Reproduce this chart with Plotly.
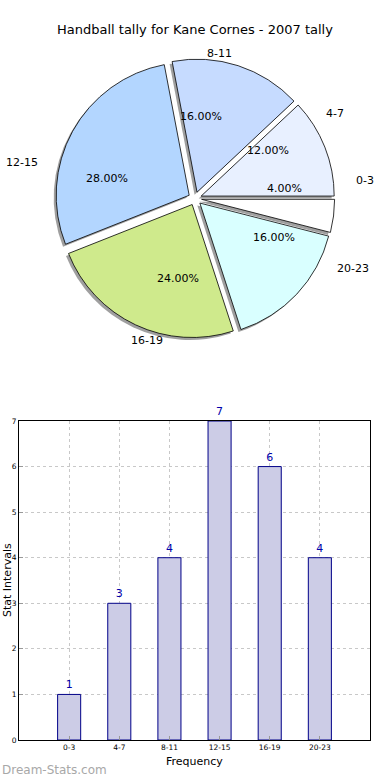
import math
import plotly.graph_objects as go

# ---- data ----
categories = ["0-3", "4-7", "8-11", "12-15", "16-19", "20-23"]
counts = [1, 3, 4, 7, 6, 4]
pie_colors = ["#ffffff", "#e8f0ff", "#c6dbff", "#b3d6ff", "#cfea8c", "#d9ffff"]
title_text = "Handball tally for Kane Cornes - 2007 tally"
x_title = "Frequency"
y_title = "Stat Intervals"
y_ticks = [0, 1, 2, 3, 4, 5, 6, 7]

W, H = 390, 780
FONT = "DejaVu Sans"

def px(x):
    return x / W

def py(y):
    return 1 - y / H

# pie geometry (pixels)
cx, cy = 195, 198.5
r_pie = 133
pull = 0.05
R = r_pie * (1 + pull)
rx_lab, ry_lab = 139, 126  # label ellipse radii

fig = go.Figure()

# shadow pie (offset left/down)
sdx, sdy = -2.5, 2.5
fig.add_trace(go.Pie(
    labels=categories, values=counts, sort=False, direction="counterclockwise",
    rotation=90, pull=[pull] * len(counts),
    marker=dict(colors=["rgba(80,80,80,0.55)"] * len(counts), line=dict(width=0)),
    textinfo="none", hoverinfo="skip", showlegend=False,
    domain=dict(x=[px(cx + sdx - R), px(cx + sdx + R)], y=[py(cy + sdy + R), py(cy + sdy - R)]),
))
fig.add_trace(go.Pie(
    labels=categories, values=counts, sort=False, direction="counterclockwise",
    rotation=90, pull=[pull] * len(counts),
    marker=dict(colors=pie_colors, line=dict(color="black", width=0.8)),
    textinfo="none", showlegend=False,
    domain=dict(x=[px(cx - R), px(cx + R)], y=[py(cy + R), py(cy - R)]),
))

annotations = []
total = sum(counts)
cum = 0
for cat, v in zip(categories, counts):
    frac = v / total
    mid = 2 * math.pi * (cum + frac / 2)
    cum += frac
    c, s = math.cos(mid), math.sin(mid)
    # outer label
    lx = cx + (1.1 + pull) * rx_lab * c
    ly = cy - (1.1 + pull) * ry_lab * s
    annotations.append(dict(
        x=px(lx), y=py(ly), xref="paper", yref="paper", text=cat, showarrow=False,
        xanchor="left" if c >= 0 else "right", yanchor="middle",
        font=dict(family=FONT, size=11, color="black"),
    ))
    # percentage label
    tx = cx + (0.6 + pull) * rx_lab * c
    ty = cy - (0.6 + pull) * ry_lab * s
    annotations.append(dict(
        x=px(tx), y=py(ty), xref="paper", yref="paper", text=f"{frac*100:.2f}%",
        showarrow=False, xanchor="center", yanchor="middle",
        font=dict(family=FONT, size=11, color="black"),
    ))

# bar chart
fig.add_trace(go.Bar(
    x=list(range(len(categories))), y=counts, width=0.46,
    marker=dict(color="#cccce6", line=dict(color="#000088", width=1)),
    text=[str(v) for v in counts], textposition="outside", cliponaxis=False,
    textfont=dict(family=FONT, size=11, color="#0000aa"),
    showlegend=False, xaxis="x", yaxis="y",
))

# title
annotations.append(dict(
    x=0.5, y=py(30), xref="paper", yref="paper", text=title_text, showarrow=False,
    xanchor="center", yanchor="middle", font=dict(family=FONT, size=13, color="black"),
))
# y title
annotations.append(dict(
    x=px(7), y=py(580), xref="paper", yref="paper", text=y_title, showarrow=False,
    textangle=-90, xanchor="center", yanchor="middle",
    font=dict(family=FONT, size=11, color="black"),
))
# x title
annotations.append(dict(
    x=px(194.5), y=py(761), xref="paper", yref="paper", text=x_title, showarrow=False,
    xanchor="center", yanchor="middle", font=dict(family=FONT, size=11, color="black"),
))
# watermark
annotations.append(dict(
    x=0, y=py(770), xref="paper", yref="paper", text="Dream-Stats.com", showarrow=False,
    xanchor="left", yanchor="middle", font=dict(family=FONT, size=12, color="#a8a8a8"),
))

grid_style = dict(showgrid=True, gridcolor="#c8c8c8", griddash="dot", gridwidth=1)

fig.update_layout(
    width=W, height=H, margin=dict(l=0, r=0, t=0, b=0),
    template="none", paper_bgcolor="white", plot_bgcolor="white",
    bargap=0.5, annotations=annotations,
    font=dict(family=FONT),
    xaxis=dict(
        domain=[px(19), px(370)], anchor="y", range=[-1, 6],
        tickmode="array", tickvals=list(range(len(categories))), ticktext=categories,
        tickfont=dict(family=FONT, size=7.5, color="black"),
        showline=True, linecolor="black", linewidth=1, mirror=True,
        ticks="inside", ticklen=4, tickcolor="#999999",
        zeroline=False, automargin=False, fixedrange=True, **grid_style,
    ),
    yaxis=dict(
        domain=[py(740), py(421)], anchor="x", range=[0, 7],
        tickmode="array", tickvals=y_ticks,
        tickfont=dict(family=FONT, size=7.5, color="black"),
        showline=True, linecolor="black", linewidth=1, mirror=True,
        ticks="inside", ticklen=4, tickcolor="#999999",
        zeroline=False, automargin=False, fixedrange=True, **grid_style,
    ),
)

fig.write_html(
    "out.html",
    config={"displayModeBar": False},
    post_script="document.body.style.margin='0';document.body.style.padding='0';",
)
